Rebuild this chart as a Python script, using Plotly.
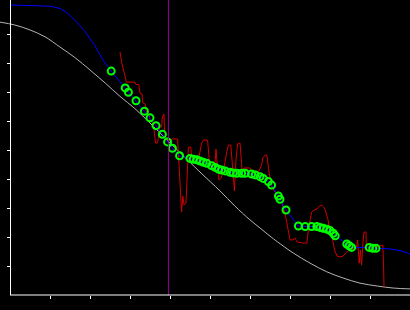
import plotly.graph_objects as go

# ---- data (arbitrary units) ----
gray_x = [-0.25, 0.12, 0.5, 0.88, 1.25, 1.62, 2.0, 2.38, 2.75, 3.12, 3.5, 3.88, 4.25, 4.75,
          5.25, 5.62, 6.0, 6.25, 6.5, 6.68, 7.08, 7.5, 7.92, 8.32, 8.75, 9.18, 9.58, 10.0]
gray_y = [9.41, 9.31, 9.14, 8.90, 8.55, 8.19, 7.76, 7.31, 6.85, 6.43, 5.93, 5.41, 4.91, 4.24,
          3.59, 3.07, 2.59, 2.31, 2.03, 1.84, 1.45, 1.10, 0.80, 0.59, 0.41, 0.31, 0.24, 0.21]

red_x = [2.75, 2.79, 2.85, 2.91, 3.12, 3.15, 3.22, 3.25, 3.30, 3.32, 3.38, 3.40, 3.45, 3.48,
         3.52, 3.58, 3.61, 3.64, 3.69, 3.71, 3.74, 3.79, 3.81, 3.85, 3.86, 3.89, 3.92, 4.00,
         4.05, 4.19, 4.21, 4.25, 4.29, 4.32, 4.35, 4.40, 4.42, 4.46, 4.52, 4.54, 4.62, 4.68,
         4.72, 4.79, 4.84, 4.94, 4.96, 4.99, 5.08, 5.12, 5.15, 5.18, 5.21, 5.22, 5.28, 5.35,
         5.42, 5.46, 5.52, 5.55, 5.59, 5.61, 5.65, 5.69, 5.75, 5.78, 5.80, 5.85, 5.95, 6.00,
         6.05, 6.20, 6.29, 6.32, 6.38, 6.42, 6.48, 6.54, 6.59, 6.70, 6.79, 6.82, 6.88, 6.92,
         6.98, 7.00, 7.08, 7.12, 7.18, 7.32, 7.42, 7.46, 7.54, 7.60, 7.68, 7.74, 7.79, 7.84,
         7.88, 7.95, 8.00, 8.05, 8.09, 8.12, 8.18, 8.25, 8.32, 8.38, 8.45, 8.58, 8.66, 8.69,
         8.71, 8.73, 8.76, 8.79, 8.82, 8.85, 8.90, 8.91, 9.00, 9.25, 9.32, 9.34, 9.35]
red_y = [8.38, 8.03, 7.69, 7.34, 7.34, 7.26, 7.26, 6.95, 6.93, 6.62, 6.59, 6.34, 6.28, 6.14,
         6.00, 5.90, 5.52, 5.24, 5.24, 5.59, 5.79, 5.79, 6.14, 6.24, 5.76, 5.45, 5.38, 5.31,
         5.38, 5.38, 4.76, 4.10, 2.86, 3.41, 3.10, 3.17, 3.79, 5.10, 5.10, 4.76, 4.66, 4.55,
         4.72, 5.24, 5.34, 5.34, 5.00, 4.48, 4.41, 4.45, 5.03, 4.52, 4.48, 3.97, 4.03, 4.38,
         4.93, 5.17, 5.17, 4.48, 3.97, 3.59, 4.66, 5.21, 5.24, 4.72, 4.31, 4.38, 4.38, 4.38,
         4.24, 4.21, 4.48, 4.72, 4.83, 4.83, 4.21, 3.76, 3.62, 3.41, 3.38, 3.07, 2.79, 2.52,
         2.00, 1.90, 1.90, 1.97, 1.83, 1.79, 1.79, 2.24, 2.86, 2.93, 2.97, 3.07, 3.10, 3.03,
         2.93, 2.59, 2.24, 2.03, 1.72, 1.52, 1.34, 1.31, 1.34, 1.41, 1.52, 1.59, 1.59, 1.90,
         1.21, 1.10, 1.55, 1.03, 1.72, 2.17, 2.17, 1.55, 1.62, 1.69, 1.72, 0.97, 0.28]

green_x = [2.53, 2.88, 2.96, 3.15, 3.36, 3.50, 3.65, 3.81, 3.94, 4.06, 4.24, 4.50, 4.58, 4.67,
           4.75, 4.83, 4.92, 5.04, 5.13, 5.21, 5.29, 5.38, 5.50, 5.58, 5.67, 5.79, 5.88, 6.04,
           6.13, 6.25, 6.33, 6.46, 6.54, 6.71, 6.75, 6.90, 7.21, 7.38, 7.54, 7.67, 7.75, 7.83,
           7.92, 8.00, 8.08, 8.13, 8.42, 8.48, 8.54, 8.98, 9.07, 9.15]
green_y = [7.72, 7.14, 6.99, 6.70, 6.34, 6.11, 5.84, 5.54, 5.28, 5.06, 4.80, 4.71, 4.68, 4.66,
           4.62, 4.58, 4.54, 4.46, 4.40, 4.34, 4.31, 4.28, 4.23, 4.21, 4.20, 4.20, 4.20, 4.17,
           4.14, 4.08, 4.02, 3.91, 3.79, 3.41, 3.30, 2.93, 2.38, 2.36, 2.36, 2.36, 2.33, 2.30,
           2.27, 2.22, 2.13, 2.04, 1.76, 1.70, 1.64, 1.64, 1.61, 1.61]

blue_head_x = [0.0, 0.25, 0.5, 0.75, 1.0, 1.25, 1.375, 1.5, 1.625, 1.75, 1.875, 2.0, 2.125, 2.25, 2.375]
blue_head_y = [10.0, 9.99, 9.98, 9.97, 9.96, 9.88, 9.78, 9.64, 9.48, 9.29, 9.09, 8.86, 8.59, 8.28, 8.0]
blue_tail_x = [9.25, 9.5, 9.75, 9.92, 10.0]
blue_tail_y = [1.61, 1.59, 1.53, 1.46, 1.40]

vline_x = 3.96
tick_vals = [1, 2, 3, 4, 5, 6, 7, 8, 9]

fig = go.Figure()
fig.add_trace(go.Scatter(x=gray_x, y=gray_y, mode="lines",
                         line=dict(color="#b4b4b4", width=1, shape="spline"), hoverinfo="skip"))
fig.add_trace(go.Scatter(x=red_x, y=red_y, mode="lines",
                         line=dict(color="#d00000", width=1), hoverinfo="skip"))
fig.add_trace(go.Scatter(x=blue_head_x + green_x + blue_tail_x,
                         y=blue_head_y + green_y + blue_tail_y, mode="lines",
                         line=dict(color="#0000ff", width=1), hoverinfo="skip"))
fig.add_trace(go.Scatter(x=green_x, y=green_y, mode="markers",
                         marker=dict(symbol="circle-open", size=7, color="#00ff00",
                                     line=dict(width=2, color="#00ff00")), hoverinfo="skip"))
fig.add_vline(x=vline_x, line=dict(color="#990099", width=1))

# bottom spine starts at the y axis
fig.add_shape(type="line", xref="paper", yref="paper", x0=10 / 410, x1=1, y0=0, y1=0,
              line=dict(color="white", width=1))

fig.update_layout(
    width=410, height=310, autosize=False,
    margin=dict(l=0, r=0, t=0, b=15, pad=0),
    paper_bgcolor="black", plot_bgcolor="black",
    showlegend=False,
    xaxis=dict(range=[-0.25, 10], showgrid=False, zeroline=False, showline=False,
               ticks="outside", ticklen=3, tickwidth=1, tickcolor="white",
               tickvals=tick_vals, showticklabels=False),
    yaxis=dict(range=[0, 295 / 29], showgrid=False, zeroline=False, showline=True,
               linecolor="white", linewidth=1, anchor="free", position=10 / 410,
               ticks="outside", ticklen=3, tickwidth=1, tickcolor="white",
               tickvals=tick_vals, showticklabels=False),
)

fig.write_html("out.html")
